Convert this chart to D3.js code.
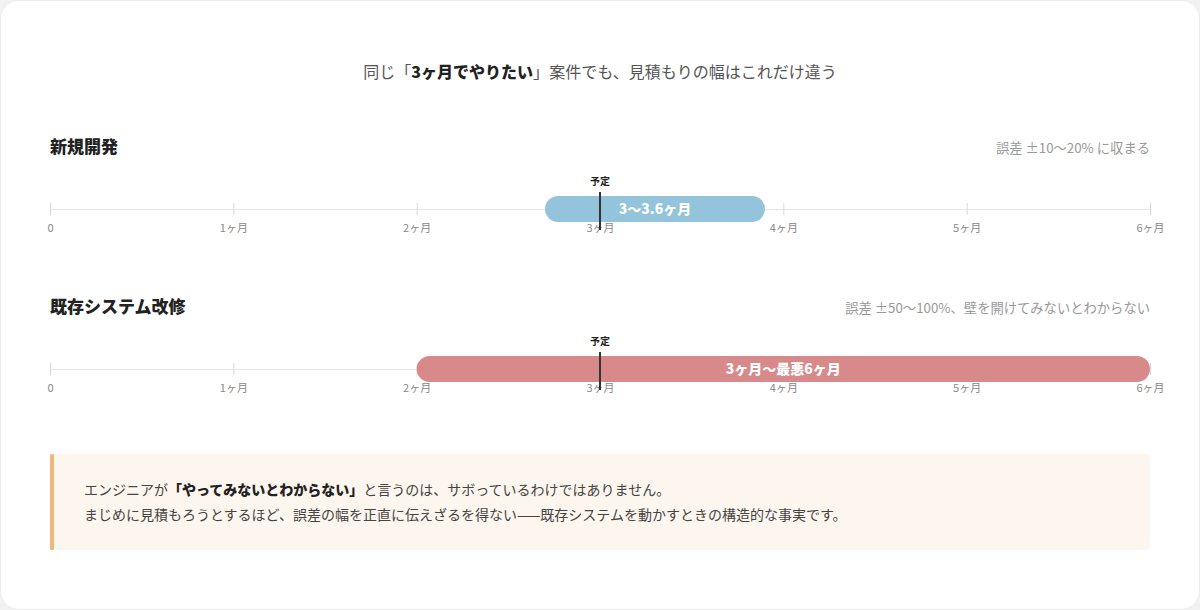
<!DOCTYPE html>
<html><head><meta charset="utf-8">
<script src="https://cdn.jsdelivr.net/npm/d3@7"></script>
<style>
html,body{margin:0;padding:0;background:#f2f2f2;}
body{width:1200px;height:610px;overflow:hidden;font-family:"Noto Sans CJK JP","Noto Sans",sans-serif;}
</style></head>
<body><svg id="c" width="1200" height="610"></svg>
<script>
const titleParts = [["同じ", false], ["「", false], ["3ヶ月でやりたい", true], ["」", false], ["案件でも、見積もりの幅はこれだけ違う", false]];
const categories = ["新規開発", "既存システム改修"];
const notes = ["誤差 ±10〜20% に収まる", "誤差 ±50〜100%、壁を開けてみないとわからない"];
const rangeLow = [2.7, 2.0];
const rangeHigh = [3.9, 6.0];
const rangeLabels = ["3〜3.6ヶ月", "3ヶ月〜最悪6ヶ月"];
const planned = [3, 3];
const plannedLabel = "予定";
const tickValues = [0, 1, 2, 3, 4, 5, 6];
const tickLabels = ["0", "1ヶ月", "2ヶ月", "3ヶ月", "4ヶ月", "5ヶ月", "6ヶ月"];
const barColors = ["#93c4dc", "#d88a8a"];
const calloutLines = [
  [["エンジニアが", false], ["「やってみないとわからない」", true], ["と言うのは、サボっているわけではありません。", false]],
  [["まじめに見積もろうとするほど、誤差の幅を正直に伝えざるを得ない——既存システムを動かすときの構造的な事実です。", false]]
];

const svg = d3.select("#c");
svg.append("rect").attr("x",0.5).attr("y",0.5).attr("width",1199).attr("height",609)
  .attr("rx",18).attr("fill","#fff").attr("stroke","#ececec");

// title
const t = svg.append("text").attr("x",600).attr("y",78).attr("text-anchor","middle")
  .attr("font-size",16).attr("fill","#555");
titleParts.forEach(([s,b]) => t.append("tspan").text(s)
  .attr("font-weight", b ? 900 : 400).attr("fill", b ? "#222" : "#555"));

const x = d3.scaleLinear().domain([0,6]).range([50,1150]);
const sectionY = d3.scaleOrdinal().domain(categories).range([0,160]);

categories.forEach((cat,i) => {
  const g = svg.append("g").attr("transform",`translate(0,${sectionY(cat)})`);
  g.append("text").attr("x",50).attr("y",153).attr("font-size",17).attr("font-weight",900)
    .attr("fill","#222").text(cat);
  g.append("text").attr("x",1150).attr("y",153).attr("text-anchor","end").attr("font-size",13.3)
    .attr("fill","#999").text(notes[i]);

  const axisY = 209;
  const axis = d3.axisBottom(x).tickValues(tickValues).tickFormat((d,j)=>tickLabels[j])
    .tickSizeInner(0).tickSizeOuter(0).tickPadding(14);
  const ag = g.append("g").attr("transform",`translate(0,${axisY})`).call(axis);
  ag.select(".domain").attr("stroke","#e6e6e6");
  ag.selectAll(".tick line").attr("y1",-6).attr("y2",6).attr("stroke","#d8d8d8");
  ag.selectAll(".tick text").attr("font-size",11).attr("fill","#888").attr("dy","0.85em")
    .attr("font-family","'Noto Sans CJK JP',sans-serif");

  const bh = 26;
  g.append("rect").attr("x",x(rangeLow[i])).attr("y",axisY-bh/2)
    .attr("width",x(rangeHigh[i])-x(rangeLow[i])).attr("height",bh).attr("rx",13)
    .attr("fill",barColors[i]);
  g.append("text").attr("x",(x(rangeLow[i])+x(rangeHigh[i]))/2).attr("y",axisY+5)
    .attr("text-anchor","middle").attr("font-size",14).attr("font-weight",900)
    .attr("fill","#fff").text(rangeLabels[i]);

  g.append("line").attr("x1",x(planned[i])).attr("x2",x(planned[i]))
    .attr("y1",axisY-17).attr("y2",axisY+21).attr("stroke","#333").attr("stroke-width",2);
  g.append("text").attr("x",x(planned[i])).attr("y",axisY-24).attr("text-anchor","middle")
    .attr("font-size",10).attr("font-weight",700).attr("fill","#222").text(plannedLabel);
});

// callout
const cg = svg.append("g");
cg.append("rect").attr("x",50).attr("y",454).attr("width",1100).attr("height",96).attr("rx",4)
  .attr("fill","#fdf6ee");
cg.append("rect").attr("x",50).attr("y",454).attr("width",4).attr("height",96).attr("rx",1.5)
  .attr("fill","#efb77b");
calloutLines.forEach((parts,k) => {
  const tx = cg.append("text").attr("x",84).attr("y",495+k*25).attr("font-size",14).attr("fill","#444");
  parts.forEach(([s,b]) => tx.append("tspan").text(s).attr("font-weight", b?900:400)
    .attr("fill", b?"#222":"#444"));
});
</script></body></html>
